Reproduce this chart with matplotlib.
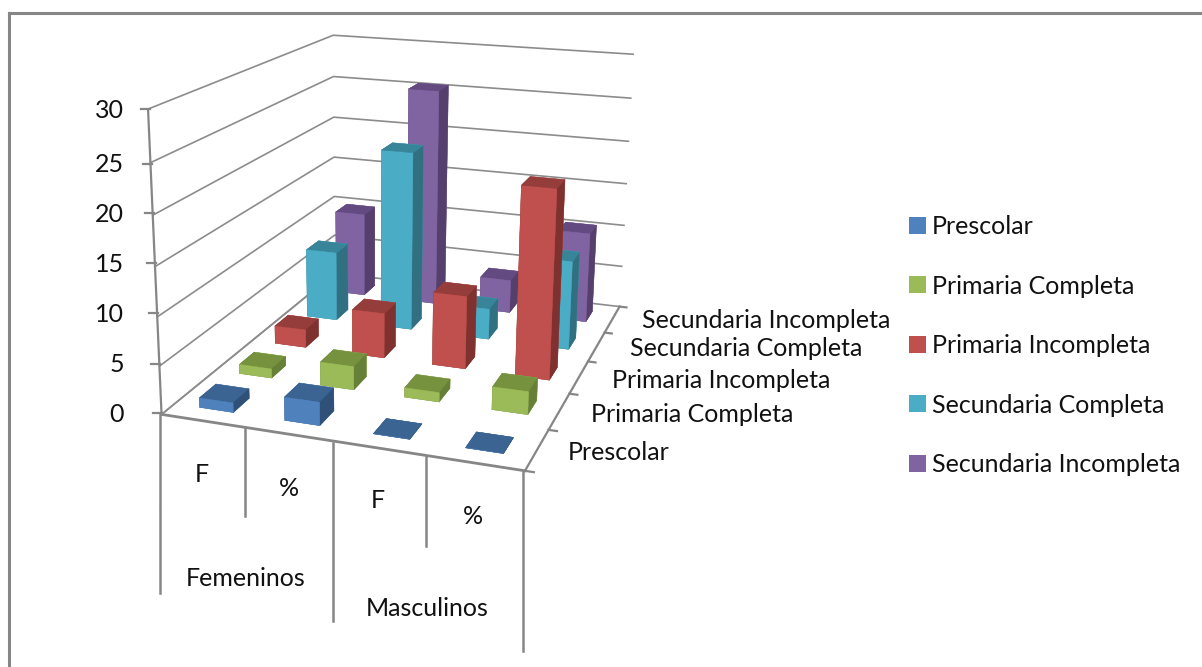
from matplotlib import pyplot as plt
from matplotlib.lines import Line2D
from matplotlib.patches import Patch
import numpy as np

W, H = 1202, 667

groups = ['Femeninos', 'Masculinos']
columns = ['F', '%', 'F', '%']
series = ['Prescolar', 'Primaria Completa', 'Primaria Incompleta', 'Secundaria Completa', 'Secundaria Incompleta']
prescolar = [1, 2.4, 0, 0]
primaria_completa = [1, 2.5, 1, 2.4]
primaria_incompleta = [2, 5, 8, 20.4]
secundaria_completa = [8, 20.4, 3.5, 10]
secundaria_incompleta = [10, 25.5, 3.9, 10.5]
values = [prescolar, primaria_completa, primaria_incompleta, secundaria_completa, secundaria_incompleta]
zticks = [0, 5, 10, 15, 20, 25, 30]

# front, top, side
colors = [('#4F81BD', '#3B6493', '#2F5078'),
          ('#9BBB59', '#76923F', '#678038'),
          ('#C0504D', '#943D3B', '#7E312F'),
          ('#4BACC6', '#38859A', '#307080'),
          ('#8064A2', '#634A80', '#543F6D')]

FONT = 'Lato'
FS = 18
GREY = '#868686'
GRID = '#8C8C8C'
INK = '#111111'


def px(x, y):
    return x / W, 1 - y / H


plt.rcParams['font.family'] = FONT
fig = plt.figure(figsize=(W / 100, H / 100), dpi=100)

# camera fitted to the wall and floor corners
L, T, S = 102.29, -75.34, 608.84
ax = fig.add_axes([L / W, 1 - (T + S) / H, S / W, S / H], projection='3d', computed_zorder=False)
ax.set_xlim(0, 4, view_margin=0)
ax.set_ylim(0, 5, view_margin=0)
ax.set_zlim(0, 30, view_margin=0)
ax.set_proj_type('persp', focal_length=0.4323)
ax.view_init(elev=16.4359, azim=-71.7597, roll=-0.5768)
ax.set_box_aspect((1.2016, 1.5170, 1))
ax.set_axis_off()

for z in zticks:
    ax.plot([0, 0, 4], [0, 5, 5], [z, z, z], color=GRID, lw=1.2, zorder=1, clip_on=False)
ax.plot([0, 0], [0, 0], [0, 30], color=GREY, lw=1.6, zorder=1, clip_on=False)
ax.plot([0, 4], [0, 0], [0, 0], color=GREY, lw=2, zorder=1, clip_on=False)
ax.plot([4, 4], [0, 5], [0, 0], color=GREY, lw=1.6, zorder=1, clip_on=False)
ax.plot([0, 0], [0, 5], [0, 0], color=GRID, lw=1.2, zorder=1, clip_on=False)
for y in range(6):
    ax.plot([4, 4.09], [y, y], [0, 0], color=GREY, lw=1.6, zorder=1, clip_on=False)

bw, bd = 0.40, 0.40
zo = 2
for j in range(len(series) - 1, -1, -1):
    front, top, side = colors[j]
    for i in range(len(columns)):
        faces = [top, top, front, front, side, side]
        ax.bar3d(i + (1 - bw) / 2, j + (1 - bd) / 2, 0, bw, bd, values[j][i], color=faces,
                 edgecolor=faces, linewidth=0.3, shade=False, zorder=zo)
        zo += 1

# value axis labels, ticks
zlabel_y = [414, 365, 314, 264, 214, 165, 110]
zstub_x = [162, 160, 158, 156, 154, 152, 150]
for z, y, x in zip(zticks, zlabel_y, zstub_x):
    fig.text(*px(124, y), str(z), ha='right', va='center', fontsize=FS, color=INK)
    fig.add_artist(Line2D([(x - 9) / W, x / W], [1 - (y - 1 if z else 413) / H] * 2, color=GREY, lw=1.6))

# category dividers below the floor
for x, y0, y1 in [(160, 413, 503), (160, 505, 593), (245, 428, 516), (333, 443, 530), (333, 532, 621),
                  (426, 457, 546), (523, 472, 651)]:
    fig.add_artist(Line2D([x / W, x / W], [1 - y0 / H, 1 - y1 / H], color=GREY, lw=1.8))

for name, x, y in zip(columns, [202, 289, 378, 473], [474, 488, 501, 517]):
    fig.text(*px(x, y), name, ha='center', va='center', fontsize=FS, color=INK)
for name, x, y in zip(groups, [246, 427], [579, 608]):
    fig.text(*px(x, y), name, ha='center', va='center', fontsize=FS, color=INK)

# depth axis labels
for name, x, y in zip(series, [568, 591, 612, 630, 642], [452, 414, 380, 348, 320]):
    fig.text(*px(x, y), name, ha='left', va='center', fontsize=FS, color=INK)

handles = [Patch(facecolor=c[0], edgecolor='none') for c in colors]
fig.legend(handles, series, loc='upper left', bbox_to_anchor=px(909, 215), frameon=False, fontsize=FS,
           borderpad=0, borderaxespad=0, handlelength=0.66, handleheight=0.66, handletextpad=0.24,
           labelspacing=1.46, labelcolor=INK)

# chart frame
fig.add_artist(Line2D([8.5 / W, 8.5 / W], [0, 1 - 12.5 / H], color=GREY, lw=2.2))
fig.add_artist(Line2D([8.5 / W, 1], [1 - 12.5 / H, 1 - 12.5 / H], color=GREY, lw=2.2))

fig.savefig('out.png', dpi=100)
